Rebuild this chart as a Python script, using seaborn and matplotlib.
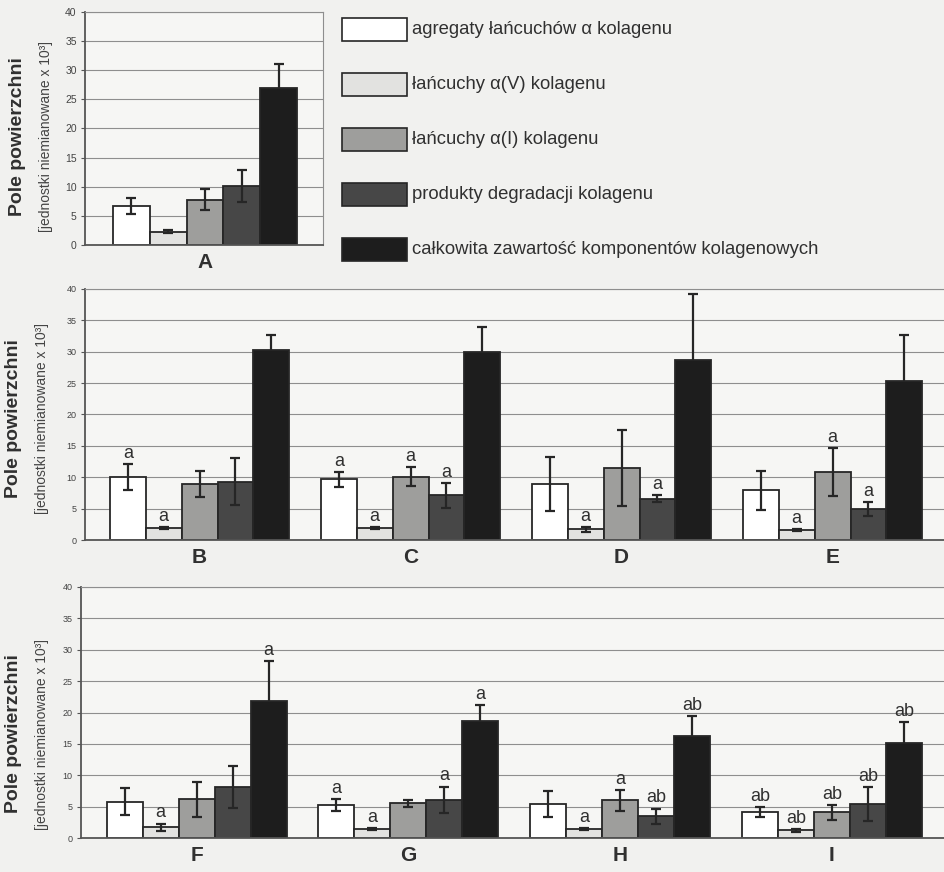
import pandas as pd
import seaborn as sns
import matplotlib.pyplot as plt
from matplotlib.patches import Rectangle

# ---- Data ----
series = ["agregaty łańcuchów α kolagenu",
          "łańcuchy α(V) kolagenu",
          "łańcuchy α(I) kolagenu",
          "produkty degradacji kolagenu",
          "całkowita zawartość komponentów kolagenowych"]
colors = ["#ffffff", "#e2e2e0", "#9e9e9c", "#474747", "#1d1d1d"]

# panel A (one group)
groups_a = ["A"]
mean_a = [[6.7], [2.3], [7.8], [10.1], [26.9]]
err_a = [[1.4], [0.2], [1.8], [2.8], [4.2]]
lab_a = [[""], [""], [""], [""], [""]]

# panel B-E
groups_b = ["B", "C", "D", "E"]
mean_b = [[10.0, 9.7, 8.9, 7.9],
          [1.9, 1.9, 1.7, 1.6],
          [8.9, 10.1, 11.5, 10.8],
          [9.3, 7.1, 6.6, 5.0],
          [30.2, 29.9, 28.7, 25.4]]
err_b = [[2.1, 1.2, 4.3, 3.1],
         [0.2, 0.1, 0.4, 0.2],
         [2.1, 1.5, 6.1, 3.8],
         [3.8, 2.0, 0.5, 1.1],
         [2.4, 4.0, 10.5, 7.2]]
lab_b = [["a", "a", "", ""],
         ["a", "a", "a", "a"],
         ["", "a", "", "a"],
         ["", "a", "a", "a"],
         ["", "", "", ""]]

# panel F-I
groups_f = ["F", "G", "H", "I"]
mean_f = [[5.8, 5.2, 5.45, 4.1],
          [1.7, 1.5, 1.4, 1.2],
          [6.2, 5.5, 6.0, 4.1],
          [8.1, 6.1, 3.45, 5.35],
          [21.9, 18.6, 16.3, 15.2]]
err_f = [[2.1, 0.95, 2.1, 0.8],
         [0.6, 0.15, 0.2, 0.2],
         [2.8, 0.55, 1.7, 1.2],
         [3.3, 2.1, 1.25, 2.7],
         [6.3, 2.6, 3.1, 3.3]]
lab_f = [["", "a", "", "ab"],
         ["a", "a", "a", "ab"],
         ["", "", "a", "ab"],
         ["", "a", "ab", "ab"],
         ["a", "a", "ab", "ab"]]

y_ticks = list(range(0, 41, 5))

# ---- Style ----
sns.set_style("white")
plt.rcParams['font.family'] = ['Liberation Sans', 'DejaVu Sans']
bg = "#f1f1ef"
ink = "#262626"
txt = "#303030"

fig = plt.figure(figsize=(9.44, 8.72), dpi=100, facecolor=bg)


def panel(rect, groups, means, errs, labels, xlim, tick_size, frame):
    ax = fig.add_axes(rect)
    ax.set_facecolor("#f6f6f4")
    rows = []
    for s, vals in zip(series, means):
        for g, v in zip(groups, vals):
            rows.append({"grupa": g, "seria": s, "wartosc": v})
    df = pd.DataFrame(rows)
    sns.barplot(data=df, x="grupa", y="wartosc", hue="seria", hue_order=series,
                order=groups, palette=colors, saturation=1, width=0.85, gap=0,
                edgecolor=ink, linewidth=1.3, errorbar=None, legend=False, ax=ax)
    bars = list(ax.containers)
    for i, cont in enumerate(bars):
        # the total bar hides its own lower whisker
        z = 0.9 if i == len(bars) - 1 else 4
        for j, p in enumerate(cont.patches):
            x = p.get_x() + p.get_width() / 2
            h = p.get_height()
            e = errs[i][j]
            ax.errorbar(x, h, yerr=e, color=ink, lw=1.6, capsize=3.8,
                        capthick=1.6, zorder=z)
            if labels[i][j]:
                ax.annotate(labels[i][j], (x, h + e), xytext=(0, 1.5),
                            textcoords="offset points", ha="center", va="bottom",
                            fontsize=13, color=txt)
    ax.set_ylim(0, 40)
    ax.set_xlim(*xlim)
    ax.set_yticks(y_ticks)
    ax.yaxis.grid(True, color="#8e8e8e", lw=0.8)
    ax.set_axisbelow(True)
    ax.set_xlabel("")
    ax.set_ylabel("")
    ax.tick_params(axis="y", length=3, width=0.8, color="#555555",
                   labelsize=tick_size, labelcolor="#444444", pad=3, left=True)
    ax.tick_params(axis="x", length=0, pad=6, labelsize=15, labelcolor=txt)
    for t in ax.get_xticklabels():
        t.set_fontweight("bold")
    for side in ["left", "bottom"]:
        ax.spines[side].set_color("#555555")
        ax.spines[side].set_linewidth(1.3)
    ax.spines["top"].set_color("#8e8e8e")
    ax.spines["top"].set_linewidth(0.8)
    if frame:
        ax.spines["right"].set_color("#8e8e8e")
        ax.spines["right"].set_linewidth(0.8)
    else:
        ax.spines["right"].set_visible(False)
    return ax


panel([85 / 944, 1 - 245 / 872, 238 / 944, 233 / 872], groups_a, mean_a, err_a,
      lab_a, (-0.554, 0.545), 7.5, True)
panel([85 / 944, 1 - 540 / 872, 1 - 85 / 944, 251 / 872], groups_b, mean_b, err_b,
      lab_b, (-0.543, 3.528), 6.5, False)
panel([81 / 944, 1 - 838 / 872, 1 - 81 / 944, 251 / 872], groups_f, mean_f, err_f,
      lab_f, (-0.546, 3.53), 6.5, False)

# ---- Y labels ----
for x_main, x_sub, yc in [(18, 46, 137), (14, 42, 419), (14, 42, 734)]:
    fig.text(x_main / 944, 1 - yc / 872, "Pole powierzchni", rotation=90,
             ha="center", va="center", fontsize=14, fontweight="bold", color=txt)
    fig.text(x_sub / 944, 1 - yc / 872, "[jednostki niemianowane x 10³]",
             rotation=90, ha="center", va="center", fontsize=10, color="#444444")

# ---- Legend ----
leg = fig.add_axes([0, 0, 1, 1], facecolor="none")
leg.set_xlim(0, 944)
leg.set_ylim(872, 0)
leg.axis("off")
for k, (s, c) in enumerate(zip(series, colors)):
    yc = 30 + k * 54.8
    leg.add_patch(Rectangle((342, yc - 11.5), 65, 23, facecolor=c,
                            edgecolor=ink, lw=1.2))
    leg.text(412, yc, s, ha="left", va="center", fontsize=13.3, color=txt)

fig.savefig("out.png", dpi=100, facecolor=bg)
